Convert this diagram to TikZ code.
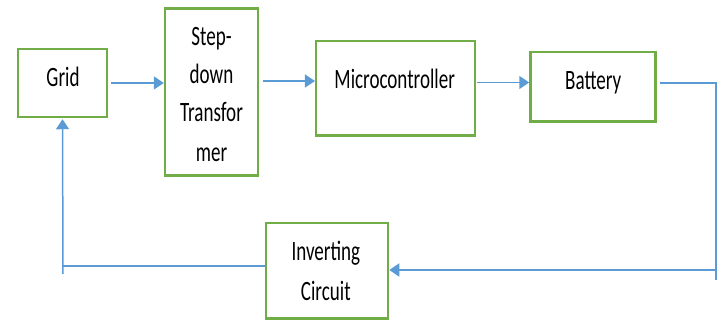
\documentclass[tikz,border=0pt]{standalone}
\usepackage{fontspec}
\usepackage{graphicx}
\setmainfont{Carlito}
\usetikzlibrary{arrows.meta,calc}
\definecolor{boxgreen}{RGB}{112,173,71}
\definecolor{lineblue}{RGB}{91,155,213}
\newcommand{\sq}[1]{\scalebox{0.68}[1]{#1}}
\begin{document}
\begin{tikzpicture}[x=1pt,y=1pt,
  blk/.style={draw=boxgreen,line width=2.5pt,inner sep=0pt,fill=white},
  lbl/.style={anchor=base,inner sep=0pt,font=\fontsize{28}{34}\selectfont},
  conn/.style={draw=lineblue,line width=1.5pt},
  arr/.style={conn,-{Triangle[length=10pt,width=13pt]}}]
\useasboundingbox (0,0) rectangle (721,320);
% boxes
\node[blk,minimum width=89pt,minimum height=68pt] (grid) at (62.5,237) {};
\node[blk,minimum width=93pt,minimum height=167pt] (step) at (211.6,228) {};
\node[blk,minimum width=158.6pt,minimum height=94.2pt] (micro) at (395.5,231.7) {};
\node[blk,minimum width=125pt,minimum height=69.3pt] (bat) at (593,233.1) {};
\node[blk,minimum width=122pt,minimum height=95.5pt] (inv) at (327,49.3) {};
% texts
\node[lbl] (gridT) at (63,233.3) {\sq{Grid}};
\node[lbl] (stepA) at (211.5,274.3) {\sq{Step-}};
\node[lbl] (stepB) at (211.5,236.7) {\sq{down}};
\node[lbl] (stepC) at (211.5,198.3) {\sq{Transfor}};
\node[lbl] (stepD) at (211.5,158.3) {\sq{mer}};
\node[lbl] (microT) at (394.7,231.7) {\sq{Microcontroller}};
\node[lbl] (batT) at (593.2,230.7) {\sq{Battery}};
\node[lbl] (invA) at (325.8,59) {\sq{Inverting}};
\node[lbl] (invB) at (325.8,19) {\sq{Circuit}};
% helper coordinates
\coordinate (y2) at (0,239);
\coordinate (y3) at (0,237.5);
\coordinate (rc) at (716,237);
\coordinate (rb) at (716,40);
\coordinate (rm) at (716,50);
\coordinate (lc) at (63,54);
\coordinate (lb) at (63,46);
% connectors
\draw[arr] ([xshift=3pt]grid.east) -- (step.west |- grid.east);
\draw[arr] ([xshift=4pt]step.east |- y2) -- (micro.west |- y2);
\draw[arr] ([xshift=1pt]micro.east |- y3) -- (bat.west |- y3);
\draw[conn] ([xshift=3pt]bat.east |- rc) -- (rc) -- (rb);
\draw[arr] (rm) -- (inv.east |- rm);
\draw[conn] (inv.west |- lc) -- (lc);
\draw[arr] (lb) -- ([yshift=-1pt]grid.south);
\end{tikzpicture}
\end{document}
